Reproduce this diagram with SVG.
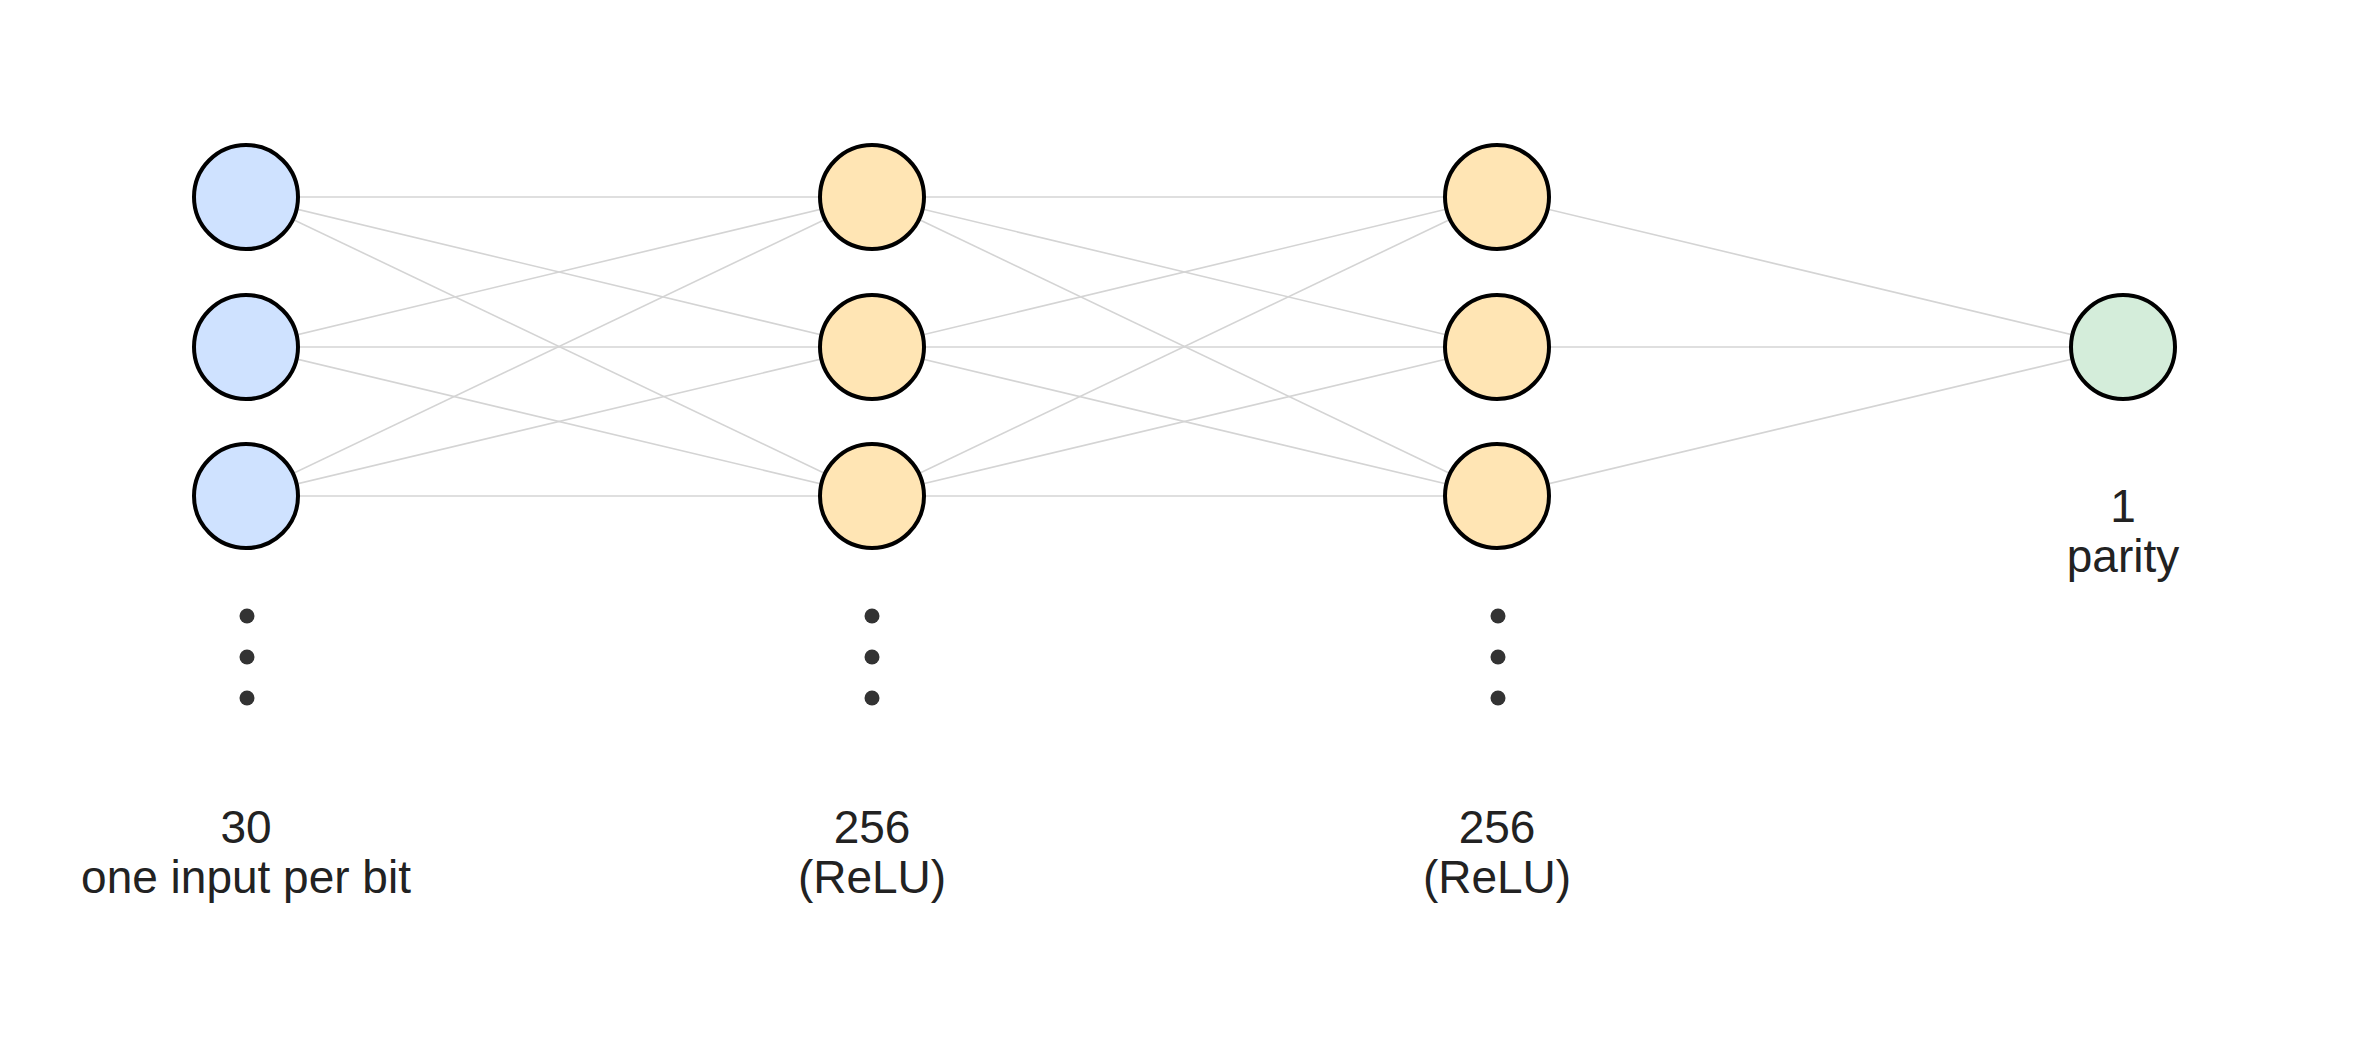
<svg xmlns="http://www.w3.org/2000/svg" width="2370" height="1056" viewBox="0 0 2370 1056">
<style>
.edge{stroke:#d4d4d4;stroke-width:1.6;fill:none}
.n{stroke:#000;stroke-width:4}
.in{fill:#cfe2ff}
.hid{fill:#ffe5b4}
.out{fill:#d4edda}
.dot{fill:#333}
.lbl{font-family:"Liberation Sans",Arial,sans-serif;font-size:46px;fill:#222;text-anchor:middle}
</style>
<rect width="2370" height="1056" fill="#fff"/>
<g id="connectors">
<line class="edge" x1="246" y1="197" x2="872" y2="197"/>
<line class="edge" x1="246" y1="197" x2="872" y2="347"/>
<line class="edge" x1="246" y1="197" x2="872" y2="496"/>
<line class="edge" x1="246" y1="347" x2="872" y2="197"/>
<line class="edge" x1="246" y1="347" x2="872" y2="347"/>
<line class="edge" x1="246" y1="347" x2="872" y2="496"/>
<line class="edge" x1="246" y1="496" x2="872" y2="197"/>
<line class="edge" x1="246" y1="496" x2="872" y2="347"/>
<line class="edge" x1="246" y1="496" x2="872" y2="496"/>
<line class="edge" x1="872" y1="197" x2="1497" y2="197"/>
<line class="edge" x1="872" y1="197" x2="1497" y2="347"/>
<line class="edge" x1="872" y1="197" x2="1497" y2="496"/>
<line class="edge" x1="872" y1="347" x2="1497" y2="197"/>
<line class="edge" x1="872" y1="347" x2="1497" y2="347"/>
<line class="edge" x1="872" y1="347" x2="1497" y2="496"/>
<line class="edge" x1="872" y1="496" x2="1497" y2="197"/>
<line class="edge" x1="872" y1="496" x2="1497" y2="347"/>
<line class="edge" x1="872" y1="496" x2="1497" y2="496"/>
<line class="edge" x1="1497" y1="197" x2="2123" y2="347"/>
<line class="edge" x1="1497" y1="347" x2="2123" y2="347"/>
<line class="edge" x1="1497" y1="496" x2="2123" y2="347"/>
</g>
<g id="input-layer">
<circle class="n in" cx="246" cy="197" r="52"/>
<circle class="n in" cx="246" cy="347" r="52"/>
<circle class="n in" cx="246" cy="496" r="52"/>
<circle class="dot" cx="247" cy="616" r="7.5"/>
<circle class="dot" cx="247" cy="657" r="7.5"/>
<circle class="dot" cx="247" cy="698" r="7.5"/>
<text class="lbl" x="246" y="843">30</text>
<text class="lbl" x="246" y="893">one input per bit</text>
</g>
<g id="hidden-layer-1">
<circle class="n hid" cx="872" cy="197" r="52"/>
<circle class="n hid" cx="872" cy="347" r="52"/>
<circle class="n hid" cx="872" cy="496" r="52"/>
<circle class="dot" cx="872" cy="616" r="7.5"/>
<circle class="dot" cx="872" cy="657" r="7.5"/>
<circle class="dot" cx="872" cy="698" r="7.5"/>
<text class="lbl" x="872" y="843">256</text>
<text class="lbl" x="872" y="893">(ReLU)</text>
</g>
<g id="hidden-layer-2">
<circle class="n hid" cx="1497" cy="197" r="52"/>
<circle class="n hid" cx="1497" cy="347" r="52"/>
<circle class="n hid" cx="1497" cy="496" r="52"/>
<circle class="dot" cx="1498" cy="616" r="7.5"/>
<circle class="dot" cx="1498" cy="657" r="7.5"/>
<circle class="dot" cx="1498" cy="698" r="7.5"/>
<text class="lbl" x="1497" y="843">256</text>
<text class="lbl" x="1497" y="893">(ReLU)</text>
</g>
<g id="output-layer">
<circle class="n out" cx="2123" cy="347" r="52"/>
<text class="lbl" x="2123" y="522">1</text>
<text class="lbl" x="2123" y="572">parity</text>
</g>
</svg>
